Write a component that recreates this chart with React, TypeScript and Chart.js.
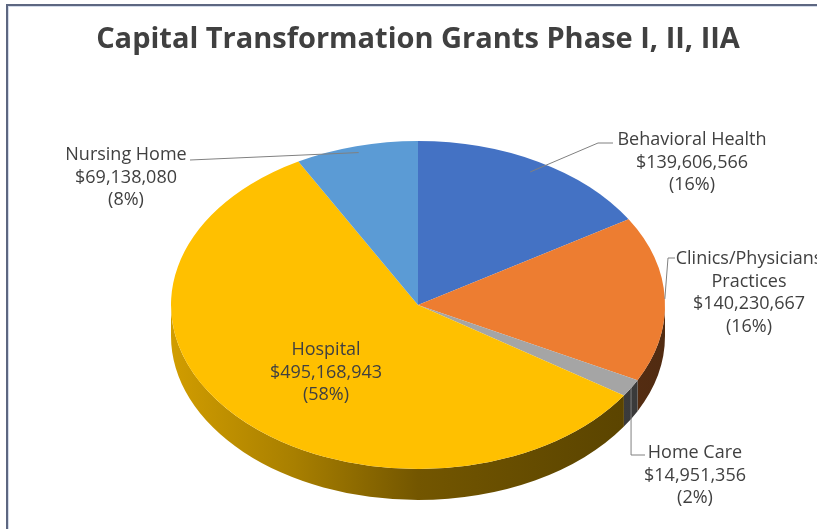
import React, { useEffect, useRef } from "react";
import { Chart, registerables } from "chart.js";

Chart.register(...registerables);

// ---- data ----
const categories = [
  "Behavioral Health",
  "Clinics/Physicians Practices",
  "Home Care",
  "Hospital",
  "Nursing Home",
];
const amounts = [139606566, 140230667, 14951356, 495168943, 69138080];
const percentLabels = ["16%", "16%", "2%", "58%", "8%"];
const nameLines = [
  ["Behavioral Health"],
  ["Clinics/Physicians", "Practices"],
  ["Home Care"],
  ["Hospital"],
  ["Nursing Home"],
];
const sliceColors = ["#4472C4", "#ED7D31", "#A5A5A5", "#FFC000", "#5B9BD5"];
const titleText = "Capital Transformation Grants Phase I, II, IIA";

// ---- layout (screen space) ----
const PIE_CX = 418;
const PIE_CY = 305;
const PIE_RX = 247;
const PIE_RY = 164;
const PIE_DEPTH = 31;
const FONT = '"Open Sans", "Noto Sans", sans-serif';
const TEXT_COLOR = "#404040";
const LINE_H = 22.5;

type LabelLayout = {
  tx: number; // text centre x
  ty: number; // first line centre y
  frac: number | null; // where the leader touches the slice (fraction of radius)
  elbows: (p: { x: number; y: number }) => [number, number][];
};

const labelLayout: LabelLayout[] = [
  { tx: 692, ty: 140, frac: 0.93, elbows: () => [[598, 143], [613, 143]] },
  { tx: 749, ty: 259, frac: 1.0, elbows: () => [[668, 258], [675, 258]] },
  { tx: 695, ty: 453, frac: 1.0, elbows: (p) => [[p.x, 455], [645, 455]] },
  { tx: 326, ty: 350, frac: null, elbows: () => [] },
  { tx: 126, ty: 155, frac: 0.96, elbows: () => [[190, 160]] },
];

function shade(hex: string, k: number): string {
  const n = parseInt(hex.slice(1), 16);
  const r = Math.round(((n >> 16) & 255) * k);
  const g = Math.round(((n >> 8) & 255) * k);
  const b = Math.round((n & 255) * k);
  return `rgb(${r},${g},${b})`;
}

function fmtMoney(v: number): string {
  return "$" + v.toLocaleString("en-US");
}

const pie3d = {
  id: "pie3d",
  beforeDatasetsDraw(chart: any) {
    const ctx: CanvasRenderingContext2D = chart.ctx;
    const meta = chart.getDatasetMeta(0);
    const a0: any = meta.data[0];
    const cx = a0.x;
    const cy = a0.y;
    const R = a0.outerRadius;
    ctx.save();
    ctx.translate(PIE_CX, PIE_CY);
    ctx.scale(PIE_RX / R, PIE_RY / R);
    ctx.translate(-cx, -cy);
    const T = (PIE_DEPTH * R) / PIE_RY;
    meta.data.forEach((arc: any, i: number) => {
      const s = Math.max(arc.startAngle, 0);
      const e = Math.min(arc.endAngle, Math.PI);
      if (e <= s) return;
      const col = sliceColors[i];
      const g = ctx.createLinearGradient(cx - R, 0, cx + R, 0);
      g.addColorStop(0, shade(col, 0.82));
      g.addColorStop(0.25, shade(col, 0.66));
      g.addColorStop(0.5, shade(col, 0.45));
      g.addColorStop(0.8, shade(col, 0.38));
      g.addColorStop(1, shade(col, 0.34));
      ctx.beginPath();
      ctx.arc(cx, cy, R, s, e);
      ctx.arc(cx, cy + T, R, e, s, true);
      ctx.closePath();
      ctx.fillStyle = g;
      ctx.fill();
    });
  },
  afterDatasetsDraw(chart: any) {
    const ctx: CanvasRenderingContext2D = chart.ctx;
    ctx.restore();
    const meta = chart.getDatasetMeta(0);
    const a0: any = meta.data[0];
    const cx = a0.x;
    const cy = a0.y;
    const R = a0.outerRadius;
    const toScreen = (ang: number, f: number) => ({
      x: PIE_CX + ((cx + Math.cos(ang) * R * f - cx) * PIE_RX) / R,
      y: PIE_CY + ((cy + Math.sin(ang) * R * f - cy) * PIE_RY) / R,
    });
    ctx.save();
    meta.data.forEach((arc: any, i: number) => {
      const lay = labelLayout[i];
      if (lay.frac !== null) {
        const mid = (arc.startAngle + arc.endAngle) / 2;
        const p = toScreen(mid, lay.frac);
        const pts = lay.elbows(p);
        ctx.beginPath();
        ctx.moveTo(p.x, p.y);
        pts.forEach(([x, y]) => ctx.lineTo(x, y));
        ctx.strokeStyle = "#808080";
        ctx.lineWidth = 1;
        ctx.stroke();
      }
      const lines = [...nameLines[i], fmtMoney(amounts[i]), `(${percentLabels[i]})`];
      ctx.font = `18px ${FONT}`;
      ctx.fillStyle = TEXT_COLOR;
      ctx.textAlign = "center";
      ctx.textBaseline = "middle";
      lines.forEach((t, k) => ctx.fillText(t, lay.tx, lay.ty + k * LINE_H));
    });
    ctx.restore();
  },
};

export default function App() {
  const ref = useRef<HTMLCanvasElement | null>(null);
  useEffect(() => {
    document.body.style.margin = "0";
    const canvas = ref.current;
    if (!canvas) return;
    const chart = new Chart(canvas, {
      type: "pie",
      data: {
        labels: categories,
        datasets: [
          {
            data: amounts,
            backgroundColor: sliceColors,
            borderWidth: 0,
            clip: false as any,
          },
        ],
      },
      options: {
        responsive: false,
        animation: false,
        events: [],
        layout: { padding: 0 },
        plugins: {
          legend: { display: false },
          tooltip: { enabled: false },
          title: {
            display: true,
            text: titleText,
            color: TEXT_COLOR,
            font: { family: FONT, size: 29, weight: "bold" },
            padding: { top: 22, bottom: 10 },
          },
        },
      },
      plugins: [pie3d],
    });
    let alive = true;
    if ((document as any).fonts && (document as any).fonts.load) {
      Promise.all([
        (document as any).fonts.load(`18px ${FONT}`),
        (document as any).fonts.load(`bold 29px ${FONT}`),
      ]).then(() => {
        if (alive) chart.update();
      });
    }
    return () => {
      alive = false;
      chart.destroy();
    };
  }, []);
  return (
    <div
      style={{
        position: "relative",
        width: 817,
        height: 529,
        overflow: "hidden",
        background: "#ffffff",
      }}
    >
      <canvas
        ref={ref}
        width={836}
        height={529}
        style={{ position: "absolute", left: 0, top: 0, width: 836, height: 529 }}
      />
      <div
        style={{
          position: "absolute",
          left: 6,
          top: 4,
          right: -20,
          bottom: -20,
          borderLeft: "2px solid #5d6781",
          borderTop: "2px solid #5d6781",
          boxShadow: "inset 1px 1px 0 #d3dbea",
          pointerEvents: "none",
        }}
      />
    </div>
  );
}
